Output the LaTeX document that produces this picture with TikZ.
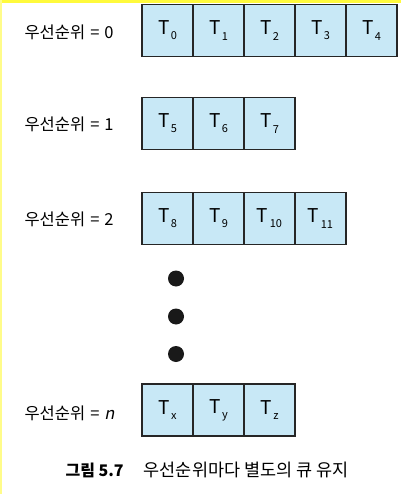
\documentclass[tikz,border=0pt]{standalone}
\usepackage{fontspec}
\setmainfont{Noto Sans CJK KR}[AutoFakeSlant=0.2]
\usetikzlibrary{positioning}
\definecolor{qblue}{RGB}{200,232,246}
\definecolor{edgeyellow}{RGB}{255,250,60}
\tikzset{
  cl/.style={rectangle, draw=black!85, line width=1.2pt, fill=qblue, minimum width=51pt, minimum height=52pt, inner sep=0pt, outer sep=0pt, font=\fontsize{19pt}{19pt}\selectfont},
  lb/.style={anchor=west, font=\fontsize{16.5pt}{16.5pt}\selectfont},
  dt/.style={circle, fill=black!90, minimum size=16pt, inner sep=0pt},
  cp/.style={anchor=west, font=\fontsize{17.5pt}{17.5pt}\selectfont}
}
\newcommand{\tsub}[1]{T\hspace{1.5pt}\raisebox{-0.5ex}{\fontsize{11pt}{11pt}\selectfont #1}}
\newcommand{\prio}[1]{우선순위\hspace{5pt}=\hspace{5pt}#1}

\begin{document}
\begin{tikzpicture}[x=1pt,y=-1pt]
  \useasboundingbox (0,0) rectangle (401,494);
  \fill[white] (0,0) rectangle (401,494);
  \fill[edgeyellow] (0,0) rectangle (401,3);
  \fill[edgeyellow!60] (0,0) rectangle (1.5,494);

  \node[lb] (l0) at (21,32) {\prio{0}};
  \node[cl] (a0) at (167.5,30.5) {\tsub{0}};
  \foreach \s [count=\i from 1, remember=\i as \j (initially 0)] in {1,2,3,4}
    \node[cl, right=0pt of a\j] (a\i) {\tsub{\s}};

  \node[lb] (l1) at (21,124) {\prio{1}};
  \node[cl] (b0) at (167.5,123.5) {\tsub{5}};
  \foreach \s [count=\i from 1, remember=\i as \j (initially 0)] in {6,7}
    \node[cl, right=0pt of b\j] (b\i) {\tsub{\s}};

  \node[lb] (l2) at (21,219) {\prio{2}};
  \node[cl] (c0) at (167.5,218.5) {\tsub{8}};
  \foreach \s [count=\i from 1, remember=\i as \j (initially 0)] in {9,10,11}
    \node[cl, right=0pt of c\j] (c\i) {\tsub{\s}};

  \node[dt] (d1) at (176,278.5) {};
  \node[dt] (d2) at (176,316.5) {};
  \node[dt] (d3) at (176,354) {};

  \node[lb] (ln) at (21,413) {\prio{\textit{n}}};
  \node[cl] (n0) at (167.5,410) {\tsub{x}};
  \node[cl, right=0pt of n0] (n1) {\tsub{y}};
  \node[cl, right=0pt of n1] (n2) {\tsub{z}};

  \node[cp] (cap) at (62,470) {{\fontsize{16pt}{16pt}\selectfont\textbf{그림 5.7}}\hspace{20pt}우선순위마다 별도의 큐 유지};
\end{tikzpicture}
\end{document}
